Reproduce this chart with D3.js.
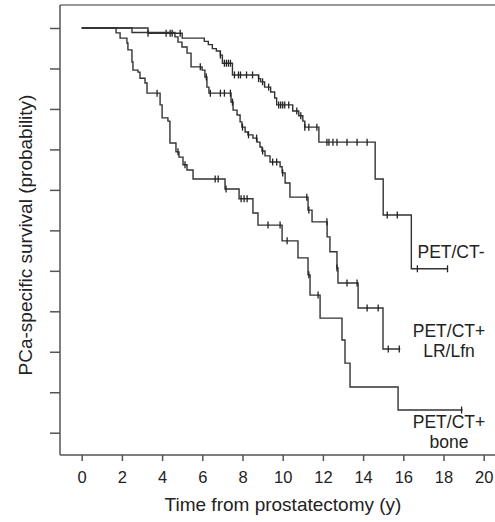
<!DOCTYPE html>
<html>
<head>
<meta charset="utf-8">
<script src="https://cdn.jsdelivr.net/npm/d3@7"></script>
<style>
  body { margin: 0; background: #fff; }
  svg { display: block; }
  text { font-family: "Liberation Sans", Arial, sans-serif; fill: #222; }
</style>
</head>
<body>
<svg width="495" height="522"></svg>
<script>
// PET/CT- group
const negTimes = [3.3, 5.0, 6.1, 6.3, 6.5, 6.7, 6.9, 7.0, 7.5, 8.8, 8.9, 9.1, 9.4, 9.6, 9.7, 10.5, 10.8, 11.0, 11.1, 11.8, 14.6, 15.0, 16.4]
const negSurv = [0.987, 0.975, 0.967, 0.959, 0.949, 0.943, 0.933, 0.913, 0.884, 0.875, 0.867, 0.854, 0.842, 0.827, 0.810, 0.795, 0.783, 0.770, 0.755, 0.718, 0.627, 0.538, 0.405]
const negEnd = 18.2
const negCens = [3.3, 4.2, 4.4, 4.5, 4.9, 6.9, 7.1, 7.2, 7.3, 7.4, 7.6, 7.8, 7.9, 8.2, 8.5, 8.8, 9.0, 9.3, 9.8, 9.9, 10.0, 10.1, 10.3, 10.7, 10.9, 11.1, 11.3, 11.7, 12.2, 12.3, 12.5, 12.7, 13.2, 13.7, 14.2, 15.2, 15.7, 16.7, 18.2]

// PET/CT+ LR/Lfn group
const lrTimes = [2.5, 4.64, 4.79, 4.99, 5.24, 5.44, 5.99, 6.13, 6.23, 6.33, 7.43, 7.53, 7.73, 7.88, 7.97, 8.13, 8.27, 8.52, 8.72, 8.87, 8.97, 9.12, 9.37, 9.87, 9.97, 10.12, 10.36, 11.26, 11.46, 12.21, 12.35, 12.70, 12.75, 13.75, 14.99]
const lrSurv = [0.989, 0.978, 0.965, 0.953, 0.938, 0.904, 0.896, 0.879, 0.854, 0.839, 0.817, 0.797, 0.785, 0.768, 0.755, 0.743, 0.736, 0.728, 0.718, 0.706, 0.696, 0.684, 0.669, 0.657, 0.642, 0.617, 0.582, 0.550, 0.521, 0.484, 0.447, 0.407, 0.370, 0.308, 0.207]
const lrEnd = 15.85
const lrCens = [5.9, 6.2, 6.4, 6.9, 7.1, 7.4, 7.5, 8.0, 8.3, 8.7, 9.0, 9.5, 9.7, 10.0, 11.2, 11.3, 12.2, 12.7, 13.2, 13.7, 14.2, 14.75, 15.25, 15.8]

// PET/CT+ bone group
const boneTimes = [1.71, 1.91, 2.25, 2.30, 2.50, 2.55, 2.80, 2.90, 3.15, 3.25, 3.90, 4.00, 4.29, 4.39, 4.69, 4.84, 5.04, 5.24, 5.54, 7.13, 7.83, 8.52, 8.77, 9.97, 10.76, 11.26, 11.36, 11.86, 12.95, 13.10, 13.35, 15.74]
const boneSurv = [0.988, 0.975, 0.963, 0.946, 0.916, 0.896, 0.891, 0.876, 0.864, 0.839, 0.810, 0.778, 0.770, 0.716, 0.694, 0.681, 0.662, 0.649, 0.627, 0.602, 0.578, 0.543, 0.513, 0.474, 0.432, 0.390, 0.340, 0.283, 0.229, 0.172, 0.113, 0.056]
const boneEnd = 18.95
const boneCens = [3.75, 4.79, 5.14, 6.64, 6.79, 7.18, 7.93, 8.08, 8.23, 9.27, 9.87, 10.22, 11.3, 11.76, 18.9]

const xTicks = [0, 2, 4, 6, 8, 10, 12, 14, 16, 18, 20]
const yTicks = [0, 0.1, 0.2, 0.3, 0.4, 0.5, 0.6, 0.7, 0.8, 0.9, 1]

const svg = d3.select('svg')
const width = +svg.attr('width')
const height = +svg.attr('height')

const x = d3.scaleLinear().domain([0, 20]).range([81.7, 483.7])
const y = d3.scaleLinear().domain([0, 1]).range([432.7, 28])

const frame = {left: 60, top: 5, bottom: 455}

// frame lines
svg.append('line')
    .attr('x1', frame.left).attr('x2', width)
    .attr('y1', frame.top).attr('y2', frame.top)
    .attr('stroke', '#999').attr('stroke-width', 2)
svg.append('line')
    .attr('x1', frame.left).attr('x2', frame.left)
    .attr('y1', frame.top).attr('y2', frame.bottom)
    .attr('stroke', '#555').attr('stroke-width', 1.5)
svg.append('line')
    .attr('x1', frame.left).attr('x2', width)
    .attr('y1', frame.bottom).attr('y2', frame.bottom)
    .attr('stroke', '#555').attr('stroke-width', 1.5)

// axes
const yAxis = svg.append('g')
    .attr('transform', `translate(${frame.left},0)`)
    .call(d3.axisLeft(y).tickValues(yTicks).tickFormat('').tickSize(10).tickSizeOuter(0))
const xAxis = svg.append('g')
    .attr('transform', `translate(0,${frame.bottom})`)
    .call(d3.axisBottom(x).tickValues(xTicks).tickFormat(d3.format('d')).tickSize(6).tickSizeOuter(0).tickPadding(10))
for (const g of [yAxis, xAxis]) {
    g.select('.domain').remove()
    g.selectAll('.tick line').attr('stroke', '#555').attr('stroke-width', 1.5)
}
xAxis.selectAll('.tick text')
    .attr('font-size', 16.5)
    .attr('font-family', '"Liberation Sans", Arial, sans-serif')
    .attr('fill', '#222')

// axis titles
svg.append('text')
    .attr('x', 283).attr('y', 511)
    .attr('text-anchor', 'middle')
    .attr('font-size', 19)
    .text('Time from prostatectomy (y)')
svg.append('text')
    .attr('transform', 'translate(32,235) rotate(-90)')
    .attr('text-anchor', 'middle')
    .attr('font-size', 19)
    .text('PCa-specific survival (probability)')

// KM curves
const stepLine = d3.line()
    .x(d => x(d[0]))
    .y(d => y(d[1]))
    .curve(d3.curveStepAfter)

const survAt = (times, surv, t) => {
    let s = 1
    times.forEach((tt, i) => { if (tt <= t) s = surv[i] })
    return s
}

const groups = [
    {times: negTimes, surv: negSurv, end: negEnd, cens: negCens},
    {times: lrTimes, surv: lrSurv, end: lrEnd, cens: lrCens},
    {times: boneTimes, surv: boneSurv, end: boneEnd, cens: boneCens}
]

groups.forEach(g => {
    const pts = [[0, 1]].concat(g.times.map((t, i) => [t, g.surv[i]]))
    pts.push([g.end, g.surv[g.surv.length - 1]])
    svg.append('path')
        .attr('d', stepLine(pts))
        .attr('fill', 'none')
        .attr('stroke', '#333')
        .attr('stroke-width', 1.4)
    svg.append('g').selectAll('line').data(g.cens)
        .enter().append('line')
            .attr('x1', d => x(d)).attr('x2', d => x(d))
            .attr('y1', d => y(survAt(g.times, g.surv, d)) - 3.5)
            .attr('y2', d => y(survAt(g.times, g.surv, d)) + 3.5)
            .attr('stroke', '#222')
            .attr('stroke-width', 1.3)
})

// group labels
const labels = [
    {lines: ['PET/CT-'], x: 451, y: 258},
    {lines: ['PET/CT+', 'LR/Lfn'], x: 449, y: 336.5},
    {lines: ['PET/CT+', 'bone'], x: 449, y: 428}
]
labels.forEach(l => {
    const t = svg.append('text')
        .attr('x', l.x).attr('y', l.y)
        .attr('text-anchor', 'middle')
        .attr('font-size', 17.5)
    l.lines.forEach((s, i) => {
        t.append('tspan').attr('x', l.x).attr('dy', i === 0 ? 0 : 20).text(s)
    })
})
</script>
</body>
</html>
